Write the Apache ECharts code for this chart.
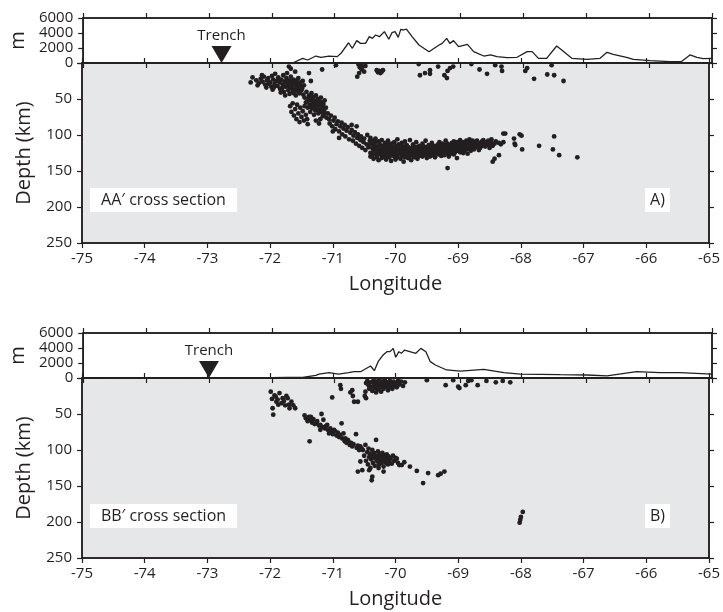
<!DOCTYPE html>
<html><head><meta charset="utf-8">
<script src="https://cdn.jsdelivr.net/npm/echarts@6/dist/echarts.min.js"></script>
<style>html,body{margin:0;padding:0;background:#fff}#c{width:723px;height:612px}</style>
</head><body><div id="c"></div>
<script>
// ---------- DATA ----------
const lonTicks = [-75,-74,-73,-72,-71,-70,-69,-68,-67,-66,-65];
const elevTicks = [0,2000,4000,6000];
const depthTicks = [0,50,100,150,200,250];

const trenchLonA = -72.8;
const trenchLonB = -73.0;

// Topography, section AA' (longitude, elevation m)
const topoLonA  = [-71.67,-71.51,-71.43,-71.30,-71.22,-71.09,-70.96,-70.90,-70.78,-70.72,-70.65,-70.59,-70.51,-70.45,-70.40,-70.35,-70.29,-70.21,-70.14,-70.09,-70.04,-69.99,-69.95,-69.91,-69.86,-69.77,-69.66,-69.50,-69.34,-69.29,-69.22,-69.17,-69.11,-69.03,-68.89,-68.79,-68.63,-68.52,-68.42,-68.26,-68.10,-67.94,-67.86,-67.76,-67.63,-67.47,-67.39,-67.23,-66.99,-66.78,-66.67,-66.57,-66.36,-66.25,-65.98,-65.67,-65.48,-65.35,-65.24,-65.14,-65.00];
const topoElevA = [0,620,400,930,760,930,850,1290,2700,1960,2980,2620,2620,3510,3290,3730,3510,4180,3160,4040,4180,3420,4490,4400,4530,3510,2400,1510,2400,2620,3290,2620,2980,2180,2490,1510,930,1070,850,710,760,1510,1510,620,620,2270,1730,620,490,620,1420,1160,760,490,310,180,220,1070,760,580,620];

// Topography, section BB'
const topoLonB  = [-75.00,-74.50,-74.00,-73.50,-73.00,-72.50,-72.00,-71.75,-71.51,-71.30,-71.25,-71.09,-70.94,-70.78,-70.69,-70.59,-70.43,-70.37,-70.31,-70.23,-70.17,-70.12,-70.07,-70.03,-69.98,-69.94,-69.89,-69.71,-69.63,-69.55,-69.48,-69.40,-69.22,-69.00,-68.63,-68.31,-68.05,-67.41,-66.99,-66.67,-66.20,-65.83,-65.51,-65.00];
const topoElevB = [0,30,10,40,20,60,40,80,90,360,530,710,530,710,840,840,1600,980,2180,3070,3510,3510,3950,2760,3510,3290,3730,3290,3950,3510,2180,1730,1070,930,1160,710,530,440,400,270,840,710,710,530];

// Earthquakes AA' [longitude, depth km]
const quakesA = [
[-72.31,27],[-72.28,20],[-72.22,24],[-72.18,28],[-72.15,22],[-72.12,26],[-72.10,19],[-72.08,30],[-72.06,34],[-72.05,24],[-72.03,21],[-72.00,27],[-71.98,33],[-71.97,18],[-71.96,37],[-71.95,23],[-71.93,29],[-71.92,15],[-71.90,25],[-71.88,32],[-71.87,20],[-71.85,27],[-71.84,36],[-71.83,41],[-71.82,23],[-71.80,30],[-71.79,17],[-71.78,40],[-71.77,26],[-71.76,45],[-71.75,33],[-71.74,21],[-71.73,14],[-71.72,29],[-71.71,38],[-71.70,24],[-71.69,43],[-71.68,31],[-71.67,19],[-71.66,27],[-71.65,35],[-71.64,40],[-71.63,23],[-71.62,30],[-71.61,37],[-71.60,26],[-71.59,45],[-71.58,33],[-71.57,29],[-71.56,39],[-71.55,21],[-71.54,36],[-71.53,42],[-71.52,27],[-71.51,32],[-71.50,38],[-71.48,25],[-71.47,44],[-71.46,31],
[-72.20,31],[-72.13,17],[-72.02,29],[-71.94,34],[-71.86,24],[-71.81,35],[-71.73,27],[-71.69,33],[-71.62,42],[-71.58,24],[-71.54,30],[-71.49,35],
[-71.70,5],[-71.67,8],[-71.60,12],[-71.38,14],[-71.35,25],[-71.17,9],[-70.95,3],
[-71.45,48],[-71.43,55],[-71.42,40],[-71.40,62],[-71.39,50],[-71.38,45],[-71.37,58],[-71.36,68],[-71.35,52],[-71.34,42],[-71.33,63],[-71.32,56],[-71.31,48],[-71.30,72],[-71.30,60],[-71.29,53],[-71.28,66],[-71.27,45],[-71.26,58],[-71.25,62],[-71.24,50],[-71.23,70],[-71.22,55],[-71.21,65],[-71.20,59],[-71.19,48],[-71.18,68],[-71.17,61],[-71.16,74],[-71.15,57],[-71.14,66],[-71.13,52],[-71.12,70],[-71.11,62],[-71.10,76],
[-71.41,53],[-71.36,61],[-71.33,47],[-71.28,57],[-71.24,65],[-71.19,54],[-71.15,71],
[-71.68,60],[-71.66,68],[-71.64,56],[-71.62,73],[-71.60,64],[-71.58,78],[-71.57,58],[-71.55,70],[-71.53,82],[-71.52,62],[-71.50,75],[-71.48,67],[-71.46,80],[-71.45,60],[-71.43,72],[-71.41,78],[-71.40,85],[-71.27,80],[-71.22,84],[-71.20,78],
[-71.08,70],[-71.06,78],[-71.05,84],[-71.03,73],[-71.01,88],[-70.99,80],[-70.97,76],[-70.96,92],[-70.94,85],[-70.92,81],[-70.90,95],[-70.88,88],[-70.86,83],[-70.85,99],[-70.83,91],[-70.81,86],[-70.80,102],[-70.78,94],[-70.76,89],[-70.74,106],[-70.72,97],[-70.70,93],[-70.68,108],[-70.67,101],[-70.65,96],[-70.63,112],[-70.61,104],[-70.60,99],[-70.58,115],[-70.56,107],[-70.55,102],[-70.53,118],[-70.51,110],[-70.50,105],[-70.48,121],[-70.46,113],[-70.45,100],[-70.43,117],[-70.41,108],[-70.70,86],[-71.00,95],[-70.90,104],[-70.62,88],
[-70.40,112],[-70.40,125],[-70.40,104],[-70.40,130],[-70.37,118],[-70.37,108],[-70.37,128],[-70.35,122],[-70.35,114],[-70.35,133],[-70.32,110],[-70.32,126],[-70.32,119],[-70.32,105],[-70.30,116],[-70.30,131],[-70.30,123],[-70.27,120],[-70.27,109],[-70.27,127],[-70.27,135],[-70.25,113],[-70.25,124],[-70.25,117],[-70.22,128],[-70.22,107],[-70.22,121],[-70.22,132],[-70.20,115],[-70.20,125],[-70.20,119],[-70.17,122],[-70.17,111],[-70.17,130],[-70.17,126],[-70.15,117],[-70.15,134],[-70.15,124],[-70.12,120],[-70.12,108],[-70.12,127],[-70.12,114],[-70.10,123],[-70.10,131],[-70.10,118],[-70.07,126],[-70.07,112],[-70.07,121],[-70.07,136],[-70.05,116],[-70.05,128],[-70.05,124],[-70.02,119],[-70.02,110],[-70.02,130],[-70.02,125],[-70.00,122],[-70.00,134],[-70.00,115],
[-69.97,127],[-69.97,118],[-69.97,106],[-69.97,131],[-69.95,121],[-69.95,113],[-69.95,126],[-69.92,124],[-69.92,117],[-69.92,133],[-69.92,120],[-69.90,129],[-69.90,111],[-69.90,122],[-69.87,116],[-69.87,126],[-69.87,120],[-69.87,137],[-69.85,123],[-69.85,131],[-69.85,109],[-69.82,119],[-69.82,127],[-69.82,114],[-69.82,125],[-69.80,122],[-69.80,132],[-69.80,117],[-69.77,126],[-69.77,107],[-69.77,120],[-69.77,129],[-69.75,118],[-69.75,124],[-69.75,135],[-69.72,121],[-69.72,113],[-69.72,128],[-69.72,116],[-69.70,125],[-69.70,119],[-69.70,131],[-69.67,117],[-69.67,123],[-69.67,110],[-69.67,128],[-69.65,120],[-69.65,126],[-69.65,133],[-69.62,124],[-69.62,115],[-69.62,119],[-69.62,129],[-69.60,118],[-69.60,127],[-69.60,122],[-69.57,121],[-69.57,112],[-69.57,130],[-69.57,125],[-69.55,116],[-69.55,124],[-69.55,119],[-69.52,123],[-69.52,128],[-69.52,108],[-69.52,120],[-69.50,117],[-69.50,125],[-69.50,132],
[-69.47,120],[-69.47,114],[-69.47,127],[-69.47,122],[-69.45,124],[-69.45,118],[-69.45,130],[-69.42,116],[-69.42,121],[-69.42,126],[-69.42,111],[-69.40,119],[-69.40,128],[-69.40,123],[-69.37,122],[-69.37,115],[-69.37,118],[-69.37,131],[-69.35,117],[-69.35,125],[-69.35,120],[-69.32,121],[-69.32,113],[-69.32,127],[-69.32,116],[-69.30,119],[-69.30,124],[-69.30,110],[-69.27,115],[-69.27,122],[-69.27,129],[-69.27,118],[-69.25,120],[-69.25,112],[-69.25,125],[-69.22,117],[-69.22,123],[-69.22,114],[-69.22,128],[-69.20,121],[-69.20,108],[-69.20,119],[-69.17,116],[-69.17,125],[-69.17,146],[-69.17,112],[-69.15,119],[-69.15,122],[-69.15,130],[-69.12,114],[-69.12,120],[-69.12,117],[-69.12,126],[-69.10,118],[-69.10,111],[-69.10,123],[-69.07,115],[-69.07,121],[-69.07,109],[-69.07,127],[-69.05,119],[-69.05,113],[-69.05,124],[-69.02,116],[-69.02,122],[-69.02,110],[-69.02,132],[-69.00,114],[-69.00,120],[-69.00,117],
[-68.97,118],[-68.97,111],[-68.97,124],[-68.97,107],[-68.95,115],[-68.95,121],[-68.95,113],[-68.92,117],[-68.92,110],[-68.92,125],[-68.92,119],[-68.90,112],[-68.90,116],[-68.90,122],[-68.87,114],[-68.87,108],[-68.87,120],[-68.85,117],[-68.85,111],[-68.85,126],[-68.82,113],[-68.82,119],[-68.82,106],[-68.80,116],[-68.80,110],[-68.80,122],[-68.77,112],[-68.77,118],[-68.77,108],[-68.75,115],[-68.75,120],[-68.72,110],[-68.72,117],[-68.72,113],[-68.70,114],[-68.70,108],[-68.67,116],[-68.67,111],[-68.67,121],[-68.65,112],[-68.65,118],[-68.62,109],[-68.62,115],[-68.60,113],[-68.60,107],[-68.57,116],[-68.57,111],[-68.55,110],[-68.52,114],[-68.52,108],[-68.50,112],[-68.50,118],[-68.47,110],[-68.47,106],[-68.45,137],[-68.45,115],[-68.42,112],[-68.42,133],[-68.40,109],[-68.35,111],[-68.35,128],[-68.32,113],[-68.28,98],[-68.28,110],
[-68.25,98],[-68.11,105],[-68.10,112],[-68.09,114],[-68.02,99],[-67.99,101],[-67.98,120],[-67.71,115],[-67.47,102],[-67.49,120],[-67.39,128],[-67.10,131],
[-70.59,2],[-70.57,6],[-70.55,3],[-70.54,9],[-70.52,5],[-70.50,12],[-70.48,4],[-70.58,14],[-70.61,19],[-70.30,10],[-70.28,13],[-70.26,11],[-70.24,14],[-70.22,12],[-70.20,10],
[-69.63,1.5],[-69.61,17],[-69.53,14],[-69.45,10],[-69.45,15],[-69.32,5],[-69.22,17],[-69.18,21],[-69.17,11],[-69.13,7],[-69.08,5],[-68.79,1.5],[-68.66,9],[-68.54,15],[-68.41,3],[-68.31,5],[-68.30,11],[-67.93,11],[-67.90,7],[-67.79,22],[-67.58,16],[-67.51,3],[-67.47,17],[-67.32,25]
];

// Earthquakes BB' [longitude, depth km]
const quakesB = [
[-71.99,19],[-71.97,29],[-71.96,42],[-71.95,51],[-71.93,24],[-71.91,26],[-71.90,33],[-71.88,30],[-71.87,37],[-71.85,21],[-71.82,35],[-71.80,28],[-71.78,32],[-71.76,38],[-71.74,25],[-71.72,28],[-71.70,37],[-71.69,42],[-71.66,33],[-71.63,38],[-71.60,42],
[-71.45,52],[-71.43,56],[-71.40,60],[-71.38,54],[-71.36,58],[-71.35,54],[-71.33,62],[-71.31,57],[-71.29,64],[-71.27,63],[-71.25,60],[-71.22,66],[-71.20,65],[-71.18,50],[-71.17,68],[-71.15,58],[-71.13,70],[-71.11,67],[-71.09,65],[-71.08,72],[-71.06,77],[-71.04,70],[-71.02,74],[-71.00,78],[-70.98,72],[-70.96,74],[-70.94,80],[-70.92,76],[-70.90,82],[-70.88,79],[-70.86,63],[-70.85,84],[-70.83,77],[-70.81,88],[-70.80,84],[-70.78,90],[-70.76,86],[-70.75,88],[-70.73,93],[-70.71,90],[-70.69,95],[-70.67,92],[-70.63,78],[-70.62,97],[-70.60,94],[-70.58,100],[-70.56,95],[-70.54,98],[-71.37,88],[-71.20,72],
[-70.52,100],[-70.50,108],[-70.48,93],[-70.47,115],[-70.45,103],[-70.44,120],[-70.43,98],[-70.42,110],[-70.41,105],[-70.40,125],[-70.39,113],[-70.38,107],[-70.37,100],[-70.36,118],[-70.35,110],[-70.34,104],[-70.33,122],[-70.32,112],[-70.31,86],[-70.30,108],[-70.29,116],[-70.28,102],[-70.27,111],[-70.26,120],[-70.25,106],[-70.24,114],[-70.23,109],[-70.22,118],[-70.21,104],[-70.20,112],[-70.19,123],[-70.18,107],[-70.17,115],[-70.16,110],[-70.15,118],[-70.14,106],[-70.13,113],[-70.12,120],[-70.11,109],[-70.10,116],[-70.08,112],[-70.06,119],[-70.04,108],[-70.02,115],[-70.00,111],[-69.98,112],[-69.96,118],[-69.94,121],[-69.90,121],[-69.86,117],[-69.77,123],[-69.66,129],[-69.56,146],[-69.48,132],[-69.32,135],[-69.28,133],[-69.22,130],[-70.37,137],[-70.38,142],[-70.53,128],[-70.56,116],[-70.27,125],[-70.19,130],[-70.42,128],[-70.60,130],
[-68.02,201],[-68.01,197],[-68.00,193],[-67.97,186],
[-70.88,10],[-70.87,15],[-71.01,27],[-70.72,20],[-70.69,17],[-70.68,25],[-70.66,33],[-70.60,33],[-70.49,25],[-70.48,19],[-70.47,28],[-70.47,7],
[-70.45,4],[-70.43,10],[-70.42,15],[-70.40,6],[-70.38,12],[-70.37,18],[-70.35,3],[-70.34,8],[-70.33,14],[-70.31,20],[-70.30,5],[-70.29,10],[-70.28,16],[-70.26,2],[-70.25,8],[-70.24,13],[-70.23,19],[-70.21,5],[-70.20,10],[-70.19,15],[-70.17,3],[-70.16,8],[-70.15,12],[-70.13,6],[-70.12,17],[-70.11,10],[-70.09,4],[-70.08,13],[-70.06,8],[-70.05,15],[-70.03,5],[-70.02,11],[-70.00,7],[-69.98,13],[-69.96,4],[-69.94,9],[-69.91,5],[-69.88,11],[-69.85,6],
[-69.50,3],[-69.20,10],[-69.08,3],[-69.00,12],[-68.98,14],[-68.88,10],[-68.84,4],[-68.79,3],[-68.69,10],[-68.55,4],[-68.40,6],[-68.29,4],[-68.17,6]
];

// ---------- CHART ----------
const FONT = "'Open Sans', 'Noto Sans', sans-serif";
const INK = '#231f20';
const chart = echarts.init(document.getElementById('c'), null, {renderer:'canvas'});

const L = 82, R = 11;
const grids = [
  {left:L, right:R, top:18,  height:45, show:true, backgroundColor:'#fff', borderColor:INK, borderWidth:1.5},
  {left:L, right:R, top:63,  height:180, show:true, backgroundColor:'#e6e7e8', borderColor:INK, borderWidth:1.5},
  {left:L, right:R, top:333, height:45, show:true, backgroundColor:'#fff', borderColor:INK, borderWidth:1.5},
  {left:L, right:R, top:378, height:180, show:true, backgroundColor:'#e6e7e8', borderColor:INK, borderWidth:1.5}
];

function xAx(gi, pos, labels) {
  return {
    type:'value', gridIndex:gi, position:pos, min:lonTicks[0], max:lonTicks[lonTicks.length-1], interval:1,
    axisLine:{show:true, onZero:false, lineStyle:{color:INK, width:1.5}},
    axisTick:{show:true, inside:false, length:5, lineStyle:{color:INK, width:1.2}},
    splitLine:{show:false},
    axisLabel:{show:labels, color:INK, fontSize:15, fontFamily:FONT, margin:8, formatter:v => String(v)},
    name: labels ? 'Longitude' : '', nameLocation:'middle', nameGap:31,
    nameTextStyle:{color:INK, fontSize:20, fontFamily:FONT}
  };
}
function yTopo(gi, pos, labels) {
  return {
    type:'value', gridIndex:gi, position:pos, min:elevTicks[0], max:elevTicks[elevTicks.length-1], interval:2000,
    axisLine:{show:true, lineStyle:{color:INK, width:1.5}},
    axisTick:{show:true, inside:false, length:5, lineStyle:{color:INK, width:1.2}},
    splitLine:{show:false},
    axisLabel:{show:labels, color:INK, fontSize:15, fontFamily:FONT, margin:10, lineHeight:15, formatter:v => String(v)},
    name: labels ? 'm' : '', nameLocation:'middle', nameGap:53, nameRotate:90,
    nameTextStyle:{color:INK, fontSize:20, fontFamily:FONT}
  };
}
function yDepth(gi, pos, labels) {
  return {
    type:'value', gridIndex:gi, position:pos, inverse:true, min:depthTicks[0], max:depthTicks[depthTicks.length-1], interval:50,
    axisLine:{show:true, lineStyle:{color:INK, width:1.5}},
    axisTick:{show:true, inside:false, length:5, lineStyle:{color:INK, width:1.2}},
    splitLine:{show:false},
    axisLabel:{show:labels, color:INK, fontSize:15, fontFamily:FONT, margin:10, formatter:v => v === 0 ? '' : String(v)},
    name: labels ? 'Depth (km)' : '', nameLocation:'middle', nameGap:48, nameRotate:90,
    nameTextStyle:{color:INK, fontSize:20, fontFamily:FONT}
  };
}

const xAxes = [
  xAx(0,'top',false), xAx(0,'bottom',false), xAx(1,'top',false), xAx(1,'bottom',true),
  xAx(2,'top',false), xAx(2,'bottom',false), xAx(3,'top',false), xAx(3,'bottom',true)
];
const yAxes = [
  yTopo(0,'left',true), yTopo(0,'right',false), yDepth(1,'left',true), yDepth(1,'right',false),
  yTopo(2,'left',true), yTopo(2,'right',false), yDepth(3,'left',true), yDepth(3,'right',false)
];

function topoSeries(xi, yi, lons, elevs) {
  return {type:'line', xAxisIndex:xi, yAxisIndex:yi, data:lons.map((l,i)=>[l, elevs[i]]),
    showSymbol:false, symbol:'none', lineStyle:{color:INK, width:1.3}, silent:true, animation:false, z:3};
}
function quakeSeries(xi, yi, pts) {
  return {type:'scatter', xAxisIndex:xi, yAxisIndex:yi, data:pts, symbol:'circle', symbolSize:4.8,
    itemStyle:{color:INK, opacity:1}, silent:true, animation:false, z:3};
}
function trenchSeries(xi, yi, lon) {
  return {type:'scatter', xAxisIndex:xi, yAxisIndex:yi, data:[[lon,0]], symbol:'triangle', symbolRotate:180,
    symbolSize:[20,17], symbolOffset:[0,-8.5], itemStyle:{color:INK, opacity:1}, silent:true, animation:false, z:5,
    label:{show:true, position:'top', distance:3, formatter:'Trench', color:INK, opacity:1, fontSize:15, fontFamily:FONT}};
}

function boxLabel(x, y, w, h, text) {
  return {type:'group', left:x, top:y, children:[
    {type:'rect', shape:{x:0, y:0, width:w, height:h}, style:{fill:'#fff'}},
    {type:'text', x:w/2, y:h/2, style:{text:text, fill:INK, font:'16px ' + FONT, textAlign:'center', textVerticalAlign:'middle'}}
  ], z:10};
}

chart.setOption({
  animation:false,
  backgroundColor:'#fff',
  grid:grids,
  xAxis:xAxes,
  yAxis:yAxes,
  series:[
    topoSeries(0,0,topoLonA,topoElevA),
    trenchSeries(0,0,trenchLonA),
    quakeSeries(3,2,quakesA),
    topoSeries(4,4,topoLonB,topoElevB),
    trenchSeries(4,4,trenchLonB),
    quakeSeries(7,6,quakesB)
  ],
  graphic:[
    boxLabel(90,188,147,24,'AA\u2032 cross section'),
    boxLabel(645,188,25,24,'A)'),
    boxLabel(90,504,147,24,'BB\u2032 cross section'),
    boxLabel(645,504,25,24,'B)')
  ]
});
</script></body></html>
